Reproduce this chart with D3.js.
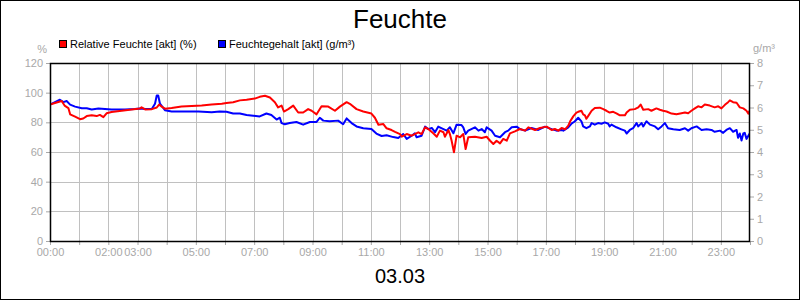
<!DOCTYPE html>
<html>
<head>
<meta charset="utf-8">
<script src="https://cdn.jsdelivr.net/npm/d3@7"></script>
<style>
  body { margin: 0; background: #fff; }
  svg { display: block; font-family: "Liberation Sans", Arial, sans-serif; }
</style>
</head>
<body>
<svg id="chart" width="800" height="300"></svg>
<script>
// time in hours since 00:00
var rfTimes = [0, 0.17, 0.4, 0.5, 0.63, 0.69, 0.86, 1.03, 1.14, 1.26, 1.43, 1.6, 1.71, 1.83, 1.94, 2.11, 2.46, 2.8, 3.09, 3.14,
  3.26, 3.49, 3.66, 3.74, 3.83, 3.94, 4.17, 4.51, 4.86, 5.2, 5.54, 5.89, 6.05, 6.28, 6.51, 6.74, 6.91, 7.02, 7.19, 7.37,
  7.54, 7.71, 7.82, 7.94, 8.02, 8.17, 8.34, 8.51, 8.68, 8.85, 8.97, 9.14, 9.31, 9.54, 9.77, 9.94, 10.17, 10.28, 10.51, 10.74,
  11.02, 11.14, 11.26, 11.43, 11.54, 11.71, 11.83, 12.0, 12.06, 12.23, 12.4, 12.63, 12.74, 12.86, 12.97, 13.14, 13.26, 13.37, 13.49, 13.54,
  13.66, 13.71, 13.77, 13.85, 13.94, 14.06, 14.17, 14.25, 14.34, 14.57, 14.8, 14.97, 15.09, 15.2, 15.31, 15.43, 15.54, 15.66, 15.77, 15.94,
  16.11, 16.29, 16.4, 16.63, 16.8, 17.03, 17.2, 17.31, 17.43, 17.54, 17.66, 17.77, 17.83, 17.94, 18.05, 18.11, 18.22, 18.28, 18.34, 18.39,
  18.45, 18.57, 18.68, 18.85, 18.97, 19.08, 19.19, 19.31, 19.42, 19.54, 19.71, 19.77, 19.88, 20.05, 20.17, 20.25, 20.34, 20.51, 20.62, 20.79,
  20.91, 21.02, 21.14, 21.31, 21.48, 21.65, 21.77, 21.88, 21.99, 22.11, 22.22, 22.34, 22.45, 22.62, 22.79, 22.91, 23.02, 23.14, 23.25, 23.31,
  23.42, 23.54, 23.65, 23.77, 23.88, 23.94, 23.99];
var rfValues = [92, 93, 94.4, 91.3, 89.6, 85.4, 83.8, 82.1, 82.6, 84.2, 84.7, 84.2, 85, 83.5, 86.1, 87, 87.8, 88.7, 89.4, 90.1,
  88.7, 88.9, 90, 92, 90.6, 89.2, 89.6, 90.6, 91, 91.3, 92, 92.5, 93, 93.6, 94.8, 95.3, 95.8, 96, 97.2, 97.9,
  96.7, 93.6, 90.1, 91.3, 87.3, 88.9, 91.3, 86.6, 86.6, 88.9, 87.8, 85.4, 90.8, 90.6, 87.8, 90.6, 93.6, 92.5, 88.9, 87.3,
  85.9, 83.1, 78.4, 78.8, 76, 74.8, 73.6, 72.1, 70.3, 72.1, 71, 73.3, 72.1, 76.6, 75.5, 72.6, 70.3, 74.4, 73.3, 70.3,
  74.8, 72.1, 67.6, 59.8, 71, 69.9, 72.1, 62, 69.9, 70.3, 69.4, 70.3, 67.6, 65.4, 67.6, 65.8, 68.8, 67.6, 72.6, 73.9,
  75.5, 74.4, 76.6, 74.8, 76.2, 77.1, 74.8, 75.5, 74.4, 76.2, 75.3, 77.8, 80.5, 84, 86.5, 87.1, 87.8, 85.4, 84.7, 82.4,
  84.2, 87.8, 89.6, 89.9, 88.9, 87.8, 86.6, 87.1, 86.1, 84.7, 84.7, 86.6, 88.5, 88.9, 90.1, 92, 88.5, 88.9, 87.8, 89.4,
  88.5, 87.8, 87.3, 85.9, 85.4, 86.1, 86.6, 86.1, 87.8, 89.4, 90.8, 90.1, 92, 91.3, 90.1, 90.8, 89.4, 91.8, 93.6, 94.8,
  93.6, 93.2, 90.1, 89.4, 87.8, 85.9, 87.8];

var fgTimes = [0, 0.17, 0.34, 0.46, 0.57, 0.69, 0.86, 1.09, 1.26, 1.43, 1.66, 2.11, 2.57, 2.91, 3.09, 3.26, 3.49, 3.6, 3.66, 3.71,
  3.77, 3.94, 4.17, 4.63, 5.09, 5.54, 5.82, 6.05, 6.28, 6.51, 6.74, 6.97, 7.19, 7.42, 7.59, 7.77, 7.88, 7.94, 8.05, 8.22,
  8.45, 8.68, 8.91, 9.14, 9.25, 9.37, 9.59, 9.88, 10.05, 10.17, 10.34, 10.51, 10.74, 11.02, 11.19, 11.37, 11.54, 11.77, 11.94, 12.11,
  12.23, 12.4, 12.51, 12.57, 12.74, 12.86, 12.97, 13.09, 13.2, 13.31, 13.49, 13.6, 13.71, 13.83, 13.94, 14.11, 14.17, 14.25, 14.34, 14.57,
  14.69, 14.8, 14.91, 14.97, 15.14, 15.26, 15.43, 15.6, 15.71, 15.83, 16, 16.11, 16.29, 16.51, 16.74, 16.97, 17.2, 17.37, 17.54, 17.6,
  17.77, 17.89, 17.99, 18.11, 18.22, 18.28, 18.39, 18.51, 18.57, 18.68, 18.79, 18.91, 19.02, 19.14, 19.19, 19.25, 19.42, 19.59, 19.71, 19.77,
  19.88, 19.99, 20.11, 20.17, 20.28, 20.34, 20.45, 20.57, 20.74, 20.85, 20.97, 21.08, 21.19, 21.37, 21.59, 21.77, 21.88, 21.99, 22.17, 22.34,
  22.51, 22.68, 22.79, 22.97, 23.08, 23.19, 23.31, 23.42, 23.54, 23.59, 23.65, 23.71, 23.77, 23.82, 23.88, 23.99];
var fgValues = [6.13, 6.24, 6.35, 6.24, 6.29, 6.13, 6.04, 5.97, 5.97, 5.91, 5.95, 5.91, 5.91, 5.93, 5.96, 5.93, 5.93, 6.17, 6.54, 6.54,
  6.17, 5.88, 5.82, 5.82, 5.82, 5.79, 5.82, 5.81, 5.73, 5.73, 5.66, 5.63, 5.6, 5.73, 5.66, 5.46, 5.54, 5.3, 5.25, 5.3,
  5.35, 5.23, 5.35, 5.35, 5.54, 5.41, 5.38, 5.41, 5.25, 5.51, 5.3, 5.15, 5.07, 5.03, 4.83, 4.72, 4.75, 4.67, 4.63, 4.81,
  4.59, 4.73, 4.84, 4.66, 4.73, 5.14, 5.03, 5.08, 4.89, 5.14, 5.03, 4.96, 5.11, 4.84, 5.23, 5.21, 5.11, 4.81, 4.96, 5.11,
  4.96, 5.03, 4.89, 5.11, 4.96, 4.73, 4.66, 4.89, 4.96, 5.11, 5.14, 5.03, 4.96, 5.08, 4.99, 5.14, 5.03, 4.96, 4.99, 4.96,
  5.11, 5.29, 5.37, 5.54, 5.38, 5.15, 5.07, 5.15, 5.3, 5.23, 5.3, 5.27, 5.33, 5.27, 5.15, 5.23, 5.11, 5.02, 4.96, 4.83,
  4.99, 5.07, 5.3, 5.15, 5.3, 5.15, 5.38, 5.23, 5.15, 5.02, 5.15, 5.3, 5.07, 5.02, 4.99, 5.07, 4.96, 5.07, 5.15, 4.99,
  5.02, 4.99, 4.91, 4.96, 4.86, 4.99, 5.07, 4.91, 4.99, 4.64, 4.83, 4.52, 4.83, 4.86, 4.59, 4.83];

var leftTicks = [0, 20, 40, 60, 80, 100, 120];
var rightTicks = [0, 1, 2, 3, 4, 5, 6, 7, 8];
var hourTicks = d3.range(0, 25);
var labeledHours = [0, 2, 3, 5, 7, 9, 11, 13, 15, 17, 19, 21, 23];

var legendNames = ['Relative Feuchte [akt] (%)', 'Feuchtegehalt [akt] (g/m³)'];
var seriesColors = ['#ff0000', '#0000ff'];

var svg = d3.select('#chart');
var pLeft = 50, pRight = 750, pTop = 63, pBottom = 241;
var grey = '#a8a8a8';

var x = d3.scaleLinear().domain([0, 24]).range([pLeft, pRight]);
var yL = d3.scaleLinear().domain([0, 120]).range([pBottom, pTop]);
var yR = d3.scaleLinear().domain([0, 8]).range([pBottom, pTop]);

// outer frame
svg.append('rect').attr('x', 0.5).attr('y', 0.5).attr('width', 799).attr('height', 299)
  .attr('fill', 'none').attr('stroke', '#000');

// grid
svg.append('g').selectAll('line').data(hourTicks.slice(1, -1)).join('line')
  .attr('x1', function(d) { return Math.round(x(d)) + 0.5; })
  .attr('x2', function(d) { return Math.round(x(d)) + 0.5; })
  .attr('y1', pTop).attr('y2', pBottom)
  .attr('stroke', '#c0c0c0');
svg.append('g').selectAll('line').data(leftTicks.slice(1, -1)).join('line')
  .attr('y1', function(d) { return Math.round(yL(d)) + 0.5; })
  .attr('y2', function(d) { return Math.round(yL(d)) + 0.5; })
  .attr('x1', pLeft).attr('x2', pRight)
  .attr('stroke', '#c0c0c0');

// axes
var axL = svg.append('g').attr('transform', 'translate(' + pLeft + ',0)')
  .call(d3.axisLeft(yL).tickValues(leftTicks).tickSize(4).tickPadding(3).tickFormat(d3.format('d')));
var axR = svg.append('g').attr('transform', 'translate(' + pRight + ',0)')
  .call(d3.axisRight(yR).tickValues(rightTicks).tickSize(4).tickPadding(3).tickFormat(d3.format('d')));
var axB = svg.append('g').attr('transform', 'translate(0,' + pBottom + ')')
  .call(d3.axisBottom(x).tickValues(hourTicks).tickSize(4).tickPadding(3)
    .tickFormat(function(d) { return labeledHours.indexOf(d) >= 0 ? d3.format('02d')(d) + ':00' : ''; }));

[axL, axR, axB].forEach(function(ax) {
  ax.select('.domain').remove();
  ax.selectAll('.tick line').attr('stroke', grey);
  ax.selectAll('.tick text').attr('fill', grey).attr('font-size', 11)
    .attr('font-family', '"Liberation Sans", Arial, sans-serif');
});

// lines
svg.append('clipPath').attr('id', 'clip').append('rect')
  .attr('x', pLeft).attr('y', pTop).attr('width', pRight - pLeft).attr('height', pBottom - pTop);

var rfLine = d3.line().x(function(d, i) { return x(rfTimes[i]); }).y(function(d) { return yL(d); });
var fgLine = d3.line().x(function(d, i) { return x(fgTimes[i]); }).y(function(d) { return yR(d); });

svg.append('path').datum(fgValues).attr('d', fgLine)
  .attr('fill', 'none').attr('stroke', seriesColors[1]).attr('stroke-width', 2)
  .attr('stroke-linejoin', 'round').attr('clip-path', 'url(#clip)');
svg.append('path').datum(rfValues).attr('d', rfLine)
  .attr('fill', 'none').attr('stroke', seriesColors[0]).attr('stroke-width', 2)
  .attr('stroke-linejoin', 'round').attr('clip-path', 'url(#clip)');

// plot frame
svg.append('rect').attr('x', pLeft + 0.5).attr('y', pTop + 0.5)
  .attr('width', pRight - pLeft - 1).attr('height', pBottom - pTop)
  .attr('fill', 'none').attr('stroke', '#000').attr('stroke-width', 1.5);

// titles
svg.append('text').attr('x', 400).attr('y', 28).attr('text-anchor', 'middle')
  .attr('font-size', 26).attr('fill', '#000').text('Feuchte');
svg.append('text').attr('x', 400).attr('y', 283).attr('text-anchor', 'middle')
  .attr('font-size', 20).attr('fill', '#000').text('03.03');
svg.append('text').attr('x', 47).attr('y', 53).attr('text-anchor', 'end')
  .attr('font-size', 11).attr('fill', grey).text('%');
svg.append('text').attr('x', 753).attr('y', 52)
  .attr('font-size', 11).attr('fill', grey).text('g/m³');

// legend
var legX = [59, 218];
var leg = svg.append('g').selectAll('g').data(legendNames).join('g')
  .attr('transform', function(d, i) { return 'translate(' + legX[i] + ',40)'; });
leg.append('rect').attr('x', 0.5).attr('y', 0.5).attr('width', 7).attr('height', 7)
  .attr('fill', function(d, i) { return seriesColors[i]; }).attr('stroke', '#000');
leg.append('text').attr('x', 11).attr('y', 8).attr('font-size', 11).attr('fill', '#000')
  .text(function(d) { return d; });
</script>
</body>
</html>
